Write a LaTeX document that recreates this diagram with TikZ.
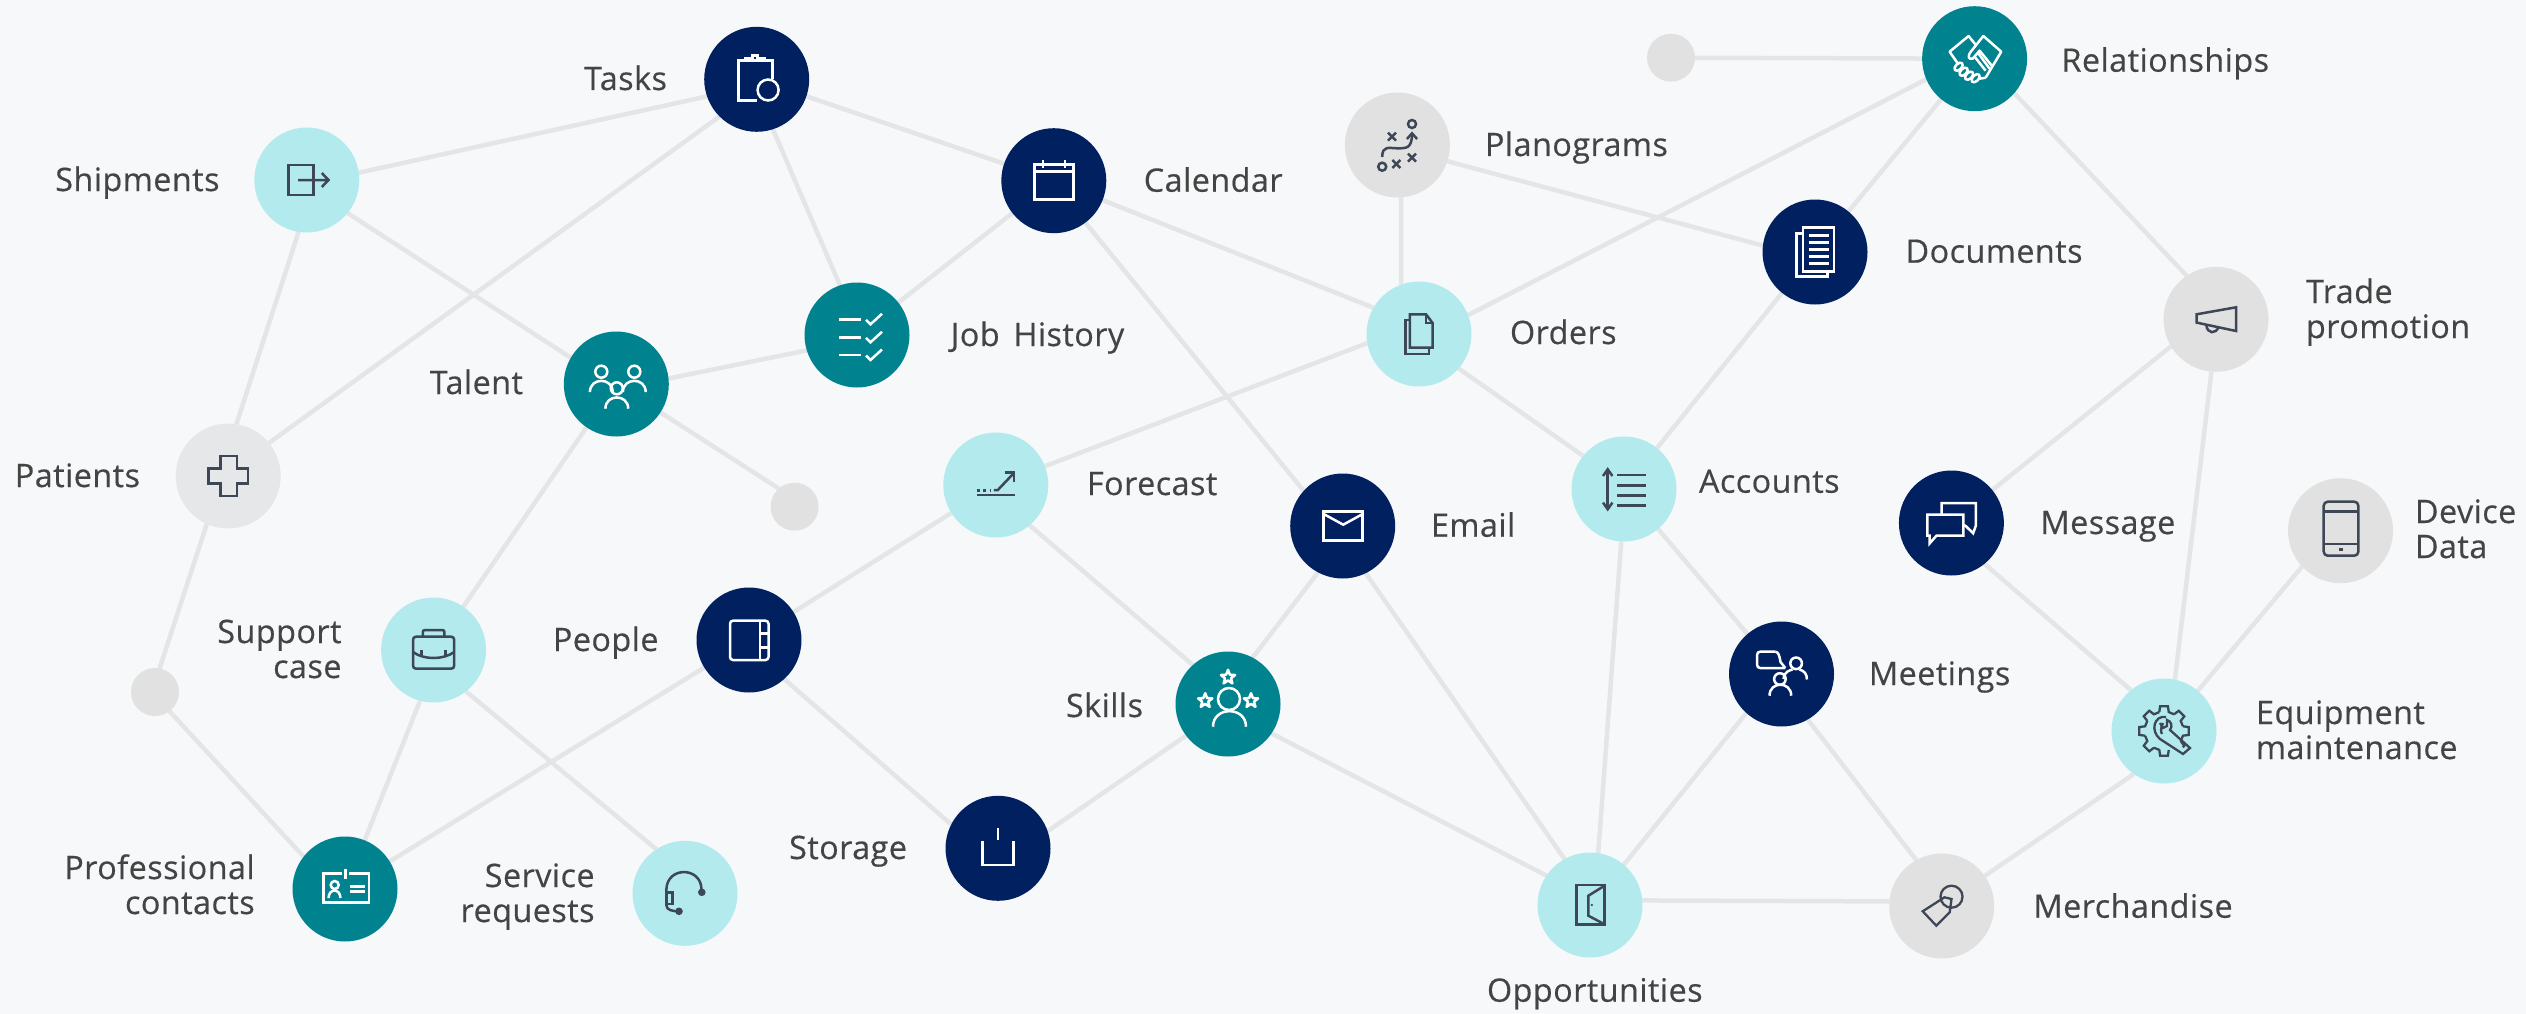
\documentclass[tikz,border=0pt]{standalone}
\usepackage{fontspec}
\setmainfont[LetterSpace=1.5,FakeBold=0.4]{Open Sans}
\usetikzlibrary{backgrounds}
\definecolor{bgc}{HTML}{F7F8FA}
\definecolor{edgec}{HTML}{E4E5E6}
\definecolor{navyc}{HTML}{00205F}
\definecolor{tealc}{HTML}{00838F}
\definecolor{lightc}{HTML}{B2EAED}
\definecolor{greyc}{HTML}{E1E1E1}
\definecolor{paleg}{HTML}{E6E7E9}
\definecolor{labc}{HTML}{444444}
\definecolor{icod}{HTML}{3E4756}
\tikzset{
  hub/.style={circle,draw=none,minimum size=105pt,inner sep=0pt,outer sep=0pt},
  navyn/.style={hub,fill=navyc},
  tealn/.style={hub,fill=tealc},
  lightn/.style={hub,fill=lightc},
  greyn/.style={hub,fill=greyc},
  paleon/.style={hub,fill=paleg},
  dotn/.style={circle,draw=none,fill=greyc,minimum size=48pt,inner sep=0pt,outer sep=0pt},
  lnk/.style={draw=edgec,line width=4.5pt},
  lab/.style={text=labc,inner sep=0pt,outer sep=0pt,yshift=-1pt,font=\fontsize{32.3}{35}\selectfont},
  lableft/.style={lab,anchor=base west,align=left},
  labright/.style={lab,anchor=base east,align=right},
  icow/.style={white,line width=2.5pt,line join=miter},
  icok/.style={icod,line width=2.5pt,line join=miter},
}
\newcommand{\personicon}[3]{% x y r
  \draw (#1,#2) circle[radius=#3];
  \draw ({#1-1.9*#3},{#2+3.4*#3}) .. controls ({#1-1.9*#3},{#2+0.9*#3}) and ({#1+1.9*#3},{#2+0.9*#3}) .. ({#1+1.9*#3},{#2+3.4*#3});
}
\newcommand{\staricon}[2]{%
  \draw[shift={(#1,#2)},line join=round] (0,-7.5)--(1.9,-2.6)--(7.1,-2.3)--(3,1)--(4.4,6.1)--(0,3.2)--(-4.4,6.1)--(-3,1)--(-7.1,-2.3)--(-1.9,-2.6)--cycle;
}
\newcommand{\xicon}[2]{%
  \draw[shift={(#1,#2)}] (-4,-4)--(4,4) (-4,4)--(4,-4);
}
\begin{document}
\begin{tikzpicture}[x=1pt,y=-1pt]
\useasboundingbox (0,0) rectangle (2526,1014);
% nodes
\node[navyn] (tasks) at (756.7,79.3) {};
\node[lightn] (shipments) at (306.8,180) {};
\node[tealn] (talent) at (616.3,384) {};
\node[paleon] (patients) at (228.2,476) {};
\node[dotn] (dotmid) at (794.6,506.7) {};
\node[lightn] (support) at (433.6,650) {};
\node[navyn] (people) at (749,640) {};
\node[dotn] (dotleft) at (155,692) {};
\node[tealn] (prof) at (345,889) {};
\node[lightn] (service) at (685,893.3) {};
\node[navyn] (calendar) at (1053.8,180.7) {};
\node[greyn] (plano) at (1397.4,145) {};
\node[dotn] (dottop) at (1671,57.7) {};
\node[lightn] (orders) at (1419,334) {};
\node[tealn] (jobhist) at (857,335) {};
\node[lightn] (forecast) at (995.8,485) {};
\node[lightn] (accounts) at (1624,489) {};
\node[navyn] (email) at (1342.7,526) {};
\node[tealn] (skills) at (1228,704) {};
\node[navyn] (storage) at (998,848.3) {};
\node[lightn] (opp) at (1590,905) {};
\node[tealn] (relat) at (1974.6,58.7) {};
\node[navyn] (docs) at (1815,252) {};
\node[greyn] (trade) at (2216,319.3) {};
\node[navyn] (message) at (1951.4,523) {};
\node[greyn] (device) at (2340.5,530.7) {};
\node[navyn] (meetings) at (1781.5,674) {};
\node[lightn] (equip) at (2164,731) {};
\node[greyn] (merch) at (1941.7,906) {};
% background and connectors
\begin{scope}[on background layer]
\fill[bgc] (0,0) rectangle (2526,1014);
\foreach \a/\b in {tasks.-161.8/shipments.8.7,
  tasks.-135.7/patients.39.7,
  tasks.-72.3/jobhist.109,
  tasks/calendar,
  shipments.-39.5/talent.150,
  shipments.-99.7/patients.81.4,
  calendar/jobhist,
  calendar/orders.150.5,
  calendar.-53/email.138,
  jobhist.-163/talent.6.5,
  talent/dotmid.131.6,
  talent/support,
  patients.-114.6/dotleft.79,
  dotleft.-53/prof.142.6,
  support.-105/prof.68.5,
  support.-52.6/service.123,
  people/prof,
  people/forecast,
  people.-48.5/storage.153,
  forecast/orders.-170,
  forecast.-50.8/skills.132.4,
  storage.19.4/skills.-143,
  skills.62.7/email.-118,
  skills.-34/opp.146,
  email.-64/opp.119.5,
  plano.-86/orders.110,
  plano.-18/docs.173.5,
  orders.21/relat.-157,
  orders.-41/accounts.141,
  docs/relat,
  docs/accounts,
  relat/dottop,
  relat.-41/trade.124,
  trade.-149/message,
  trade.-95/equip.78,
  message.-51.8/equip.129.6,
  device.-137.5/equip,
  equip.-125.8/merch.35.6,
  merch.119.9/meetings.-60,
  merch.175/opp.5,
  meetings/accounts,
  meetings.-132.4/opp.50.8,
  accounts.-93/opp.81.4}
  \draw[lnk] (\a) -- (\b);
\end{scope}
% labels
\node[labright] (ltasks) at (667,89) {Tasks};
\node[labright] (lship) at (219.5,190) {Shipments};
\node[labright] (ltalent) at (523,393) {Talent};
\node[labright] (lpat) at (140,486) {Patients};
\node[labright] (lsupp) at (341.5,677) {Support\\case};
\node[labright] (lpeople) at (658.5,650) {People};
\node[labright] (lprof) at (254.7,913) {Professional\\contacts};
\node[labright] (lserv) at (594.6,921) {Service\\requests};
\node[labright] (lstor) at (907,858) {Storage};
\node[lableft] (lcal) at (1143.8,190.7) {Calendar};
\node[lableft] (lplano) at (1485,155) {Planograms};
\node[lableft] (ljob) at (950.8,345) {Job\hspace{5pt} History};
\node[lableft] (lord) at (1510,343) {Orders};
\node[lableft] (lfore) at (1087,494) {Forecast};
\node[lableft] (lemail) at (1431,535.7) {Email};
\node[labright] (lskill) at (1143,716) {Skills};
\node[lableft] (lopp) at (1487,1000.7) {Opportunities};
\node[lableft] (lrel) at (2061.5,70.7) {Relationships};
\node[lableft] (ldoc) at (1905.6,261.7) {Documents};
\node[lableft] (ltrade) at (2306,337) {Trade\\promotion};
\node[lableft] (lacc) at (1699,491.7) {Accounts};
\node[lableft] (lmsg) at (2040.5,533) {Message};
\node[lableft] (ldev) at (2415,557) {Device\\Data};
\node[lableft] (lmeet) at (1869,684) {Meetings};
\node[lableft] (lequip) at (2256,758) {Equipment\\maintenance};
\node[lableft] (lmerch) at (2033.5,916.7) {Merchandise};
% icons
\begin{scope}[shift={(tasks.center)},icow]
  \draw (0,21) -- (-18,21) -- (-18,-19) -- (16,-19) -- (16,0);
  \draw (-11,-18) -- (-11,-21) -- (-4,-21) -- (-4,-24) -- (1,-24) -- (1,-21) -- (7.6,-21) -- (7.6,-18);
  \draw (11.4,10.7) circle[radius=10.5];
\end{scope}
\begin{scope}[shift={(shipments.center)},icok]
  \draw (-18.5,-15) rectangle (6.5,15);
  \draw (-8.7,0) -- (21.7,0) (15,-7) -- (21.7,0) -- (15,7);
\end{scope}
\begin{scope}[shift={(talent.center)},icow]
  \personicon{-15}{-12.3}{6}
  \personicon{18}{-12.3}{6}
  \personicon{0.5}{4.3}{6}
\end{scope}
\begin{scope}[shift={(patients.center)},icok]
  \draw (-7.6,-20) -- (9,-20) -- (9,-7.7) -- (20,-7.7) -- (20,7.5) -- (9,7.5) -- (9,20) -- (-7.6,20) -- (-7.6,7.5) -- (-19.8,7.5) -- (-19.8,-7.7) -- (-7.6,-7.7) -- cycle;
\end{scope}
\begin{scope}[shift={(support.center)},icok]
  \draw[rounded corners=3pt] (-20.6,-13.3) rectangle (20.6,18.7);
  \draw[rounded corners=2pt] (-10.8,-13.3) -- (-10.8,-20) -- (10.8,-20) -- (10.8,-13.3);
  \draw (-20.6,2) .. controls (-10,10) and (10,10) .. (20.6,2);
  \draw (-12,0) -- (-12,7) (12,0) -- (12,7);
\end{scope}
\begin{scope}[shift={(people.center)},icow]
  \draw[rounded corners=3pt] (-19,-19.3) rectangle (19.5,20);
  \draw (10.8,-19.3) -- (10.8,20) (10.8,-6.7) -- (19.5,-6.7) (10.8,7.3) -- (19.5,7.3);
\end{scope}
\begin{scope}[shift={(prof.center)},icow]
  \draw (-3,-15.7) -- (-21.7,-15.7) -- (-21.7,13.7) -- (24,13.7) -- (24,-15.7) -- (4,-15.7);
  \draw (0.5,-20) -- (0.5,-10);
  \draw (-10.3,-4) circle[radius=4];
  \draw (-16.5,9) .. controls (-16,-1) and (-5,-1) .. (-4.5,9);
  \draw (5.4,-2.7) -- (19.5,-2.7) (5.4,2.3) -- (19.5,2.3);
\end{scope}
\begin{scope}[shift={(service.center)},icok]
  \draw (16.5,-1) -- (16.5,-4) .. controls (16,-27) and (-18,-27) .. (-18.6,-4) -- (-18.6,12) .. controls (-18.6,17) and (-12,18) .. (-6,18);
  \draw (-18.6,-1) rectangle (-12.5,10.7);
  \fill (16.8,-1) circle[radius=3.8];
  \fill (-6,18) circle[radius=3.8];
\end{scope}
\begin{scope}[shift={(calendar.center)},icow]
  \draw (-19.5,-16) rectangle (19.5,18.7);
  \draw (-19.5,-9) -- (19.5,-9);
  \draw (-10.8,-20.7) -- (-10.8,-13) (11.4,-20.7) -- (11.4,-13);
\end{scope}
\begin{scope}[shift={(plano.center)},icok]
  \draw (14.6,-21) circle[radius=4];
  \xicon{-5.4}{-8.3}
  \xicon{14.6}{12.7}
  \xicon{-1}{19}
  \draw (-15.2,21.7) circle[radius=4];
  \draw (-15.2,12) .. controls (-15.2,0) and (-8,3.3) .. (0,3.3) .. controls (8,3.3) and (14.6,4) .. (14.6,-11);
  \draw (9.5,-6) -- (14.6,-11.7) -- (19.7,-6);
\end{scope}
\begin{scope}[shift={(jobhist.center)},icow]
  \draw (-18,-15.7) -- (3.8,-15.7) (-18,2.3) -- (3.8,2.3) (-18,20) -- (3.8,20);
  \foreach \yy in {-15.7,2.3,20}
    \draw[shift={(0,\yy)}] (9,0.5) -- (13.5,5) -- (25,-5.5);
\end{scope}
\begin{scope}[shift={(orders.center)},icok]
  \draw (-9.2,-19.7) -- (7,-19.7) -- (13.6,-11) -- (13.6,13.7) -- (-9.2,13.7) -- cycle;
  \draw (7,-19.7) -- (7,-11) -- (13.6,-11);
  \draw (-9.2,-14) -- (-13.5,-14) -- (-13.5,20) -- (9.8,20) -- (9.8,13.7);
\end{scope}
\begin{scope}[shift={(forecast.center)},icok]
  \draw (-19,10) -- (19,10);
  \draw[line width=3pt,dash pattern=on 3pt off 3.5pt] (-19,5) -- (-5,5);
  \draw (-2,5) -- (2,5) -- (18.4,-12.3);
  \draw (8.7,-12.3) -- (18.4,-12.3) -- (18.4,-3);
\end{scope}
\begin{scope}[shift={(accounts.center)},icok]
  \draw (-16.3,-19.7) -- (-16.3,20.3);
  \draw (-21,-13) -- (-16.3,-19.7) -- (-11.6,-13);
  \draw (-21,13.6) -- (-16.3,20.3) -- (-11.6,13.6);
  \draw (-7,-14) -- (21.8,-14) (-7,-3.5) -- (21.8,-3.5) (-7,6.7) -- (21.8,6.7) (-7,16.7) -- (21.8,16.7);
\end{scope}
\begin{scope}[shift={(email.center)},icow]
  \draw (-19,-14.7) rectangle (20,14.7);
  \draw (-19,-12) -- (0.5,-1.3) -- (20,-12);
\end{scope}
\begin{scope}[shift={(skills.center)},icow]
  \draw (1,-5) circle[radius=11];
  \draw (-15,22.7) .. controls (-15,2) and (18,2) .. (18,22.7);
  \staricon{0}{-26.7}
  \staricon{-22.8}{-3.3}
  \staricon{23}{-3.3}
\end{scope}
\begin{scope}[shift={(storage.center)},icow]
  \draw (-15.4,-7.7) -- (-15.4,16.7) -- (15.5,16.7) -- (15.5,-7.7);
  \draw (0,-20) -- (0,-8);
\end{scope}
\begin{scope}[shift={(opp.center)},icok]
  \draw (-13.5,-20) rectangle (14.6,19.7);
  \draw (14,-19) -- (-1.6,-9.3) -- (-1.6,10.7) -- (14,19);
  \fill (1.8,0) circle[radius=1.2];
\end{scope}
\begin{scope}[shift={(relat.center)},icow,line join=round]
  \draw (-16,6) -- (-25,-7) -- (-6,-22.7) -- (1,-14);
  \draw (-3,-8) -- (8.7,-22.7) -- (26.6,-7) -- (11,19);
  \draw (-3,-8) .. controls (-8,-2) and (-6,1) .. (-2,0) -- (5,-8) -- (18,8);
  \draw (0,-2) -- (11,12);
  \draw (4,-5) -- (15,10);
  \draw[rotate around={45:(-16,8)}] (-16,8) ellipse[x radius=5,y radius=3];
  \draw[rotate around={45:(-11,13)}] (-11,13) ellipse[x radius=5,y radius=3];
  \draw[rotate around={45:(-5.5,17)}] (-5.5,17) ellipse[x radius=5,y radius=3];
  \draw[rotate around={45:(1,19.5)}] (1,19.5) ellipse[x radius=5,y radius=3];
  \draw (5,20) -- (11,19);
\end{scope}
\begin{scope}[shift={(docs.center)},icow]
  \draw (-12,-24.7) rectangle (19,19.7);
  \draw (-12,-18.7) -- (-18.4,-18.7) -- (-18.4,24.7) -- (12.5,24.7) -- (12.5,19.7);
  \foreach \yy in {-16.7,-9.7,-2.7,4.3,11.3}
    \draw (-6.5,\yy) -- (14,\yy);
\end{scope}
\begin{scope}[shift={(trade.center)},icok]
  \draw (-19.4,-5) -- (20,-12) -- (20,11.7) -- (-19.4,3.3) -- cycle;
  \draw (-9.7,5.5) .. controls (-9,15) and (0,15) .. (2.7,7.5);
\end{scope}
\begin{scope}[shift={(message.center)},icow]
  \draw (-24,-8.3) -- (12,-8.3) -- (12,12.7) -- (-15,12.7) -- (-21.7,20.3) -- (-21.7,12.7) -- (-24,12.7) -- cycle;
  \draw (-9.8,-8.3) -- (-9.8,-20) -- (24.4,-20) -- (24.4,2.7) -- (21.7,10.3) -- (14,2.7) -- (12,2.7);
\end{scope}
\begin{scope}[shift={(device.center)},icok]
  \draw[rounded corners=4pt] (-16.8,-29) rectangle (17.8,25);
  \draw (-16.8,-19.4) -- (17.8,-19.4) (-16.8,13.4) -- (17.8,13.4);
  \draw[line width=3pt] (-2,19) -- (2,19);
\end{scope}
\begin{scope}[shift={(meetings.center)},icow]
  \draw[rounded corners=3pt] (3.8,-6) -- (-24.4,-6) -- (-24.4,-22.3) -- (-6,-22.3);
  \draw (-6,-22.3) .. controls (-3,-22) and (-2,-18) .. (-1,-12) -- (3.8,-6);
  \draw (14.6,-10.7) circle[radius=5.8];
  \draw (2,5) .. controls (3,-3) and (8,-3.5) .. (11,-4.5);
  \draw (18,-4.5) .. controls (23,-3) and (25.4,0) .. (25.4,5.5);
  \draw (-1.6,5) circle[radius=5.8];
  \draw (-12,21.7) .. controls (-12,7) and (9.7,7) .. (9.7,21.7);
\end{scope}
\begin{scope}[shift={(equip.center)},icok,line width=2.3pt]
  \foreach \a in {0,90,135,180,225,270,315}
    \draw (\a-14:19.5) -- (\a-9:25) -- (\a+9:25) -- (\a+14:19.5) -- (\a+31:19.5);
  \draw (45-14:19.5) -- (45-9:25) -- (45-4:25);
  \draw (2,-14) .. controls (-10,-16) and (-14,0) .. (-4,8) -- (19,23) -- (26,17) -- (6,-1) .. controls (9,-5) and (7,-10) .. (3,-11) -- (3,-5) -- (-1,-3) -- (-4,-8);
  \draw (-1,-8) .. controls (-4,-2) and (-3,1) .. (-2,3);
\end{scope}
\begin{scope}[shift={(merch.center)},icok,line width=2.3pt]
  \draw (9.8,-9.3) circle[radius=11];
  \draw (-19,5.3) -- (2.7,-8.7) -- (9.8,-7) -- (8,6.3) -- (-5.4,19.7) -- cycle;
\end{scope}
\end{tikzpicture}
\end{document}
